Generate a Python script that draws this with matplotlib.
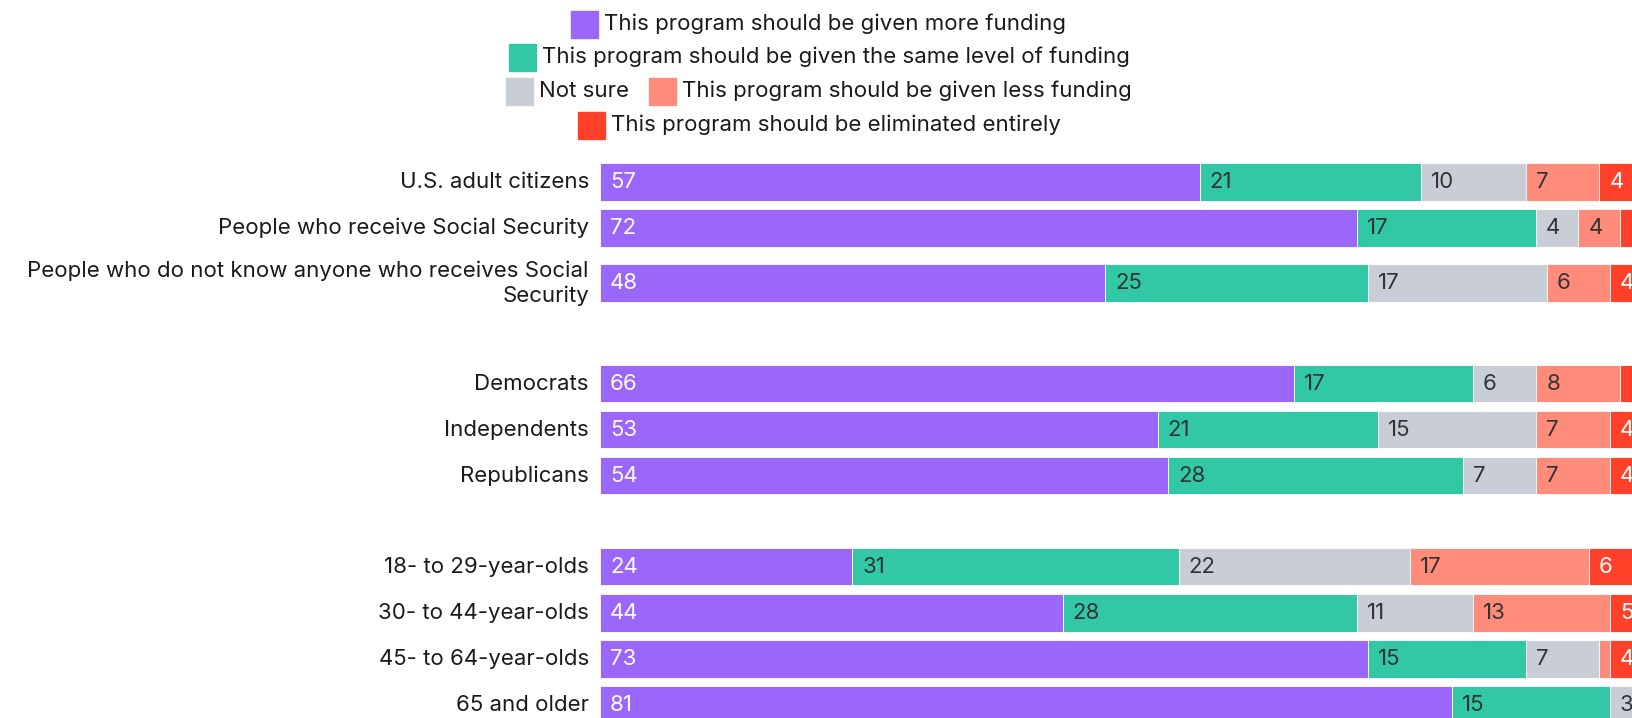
import numpy as np
import matplotlib.pyplot as plt
from matplotlib.patches import Rectangle

plt.rcParams['font.family'] = ['Inter', 'DejaVu Sans']

# categories, grouped
groups = [
    ['U.S. adult citizens', 'People who receive Social Security',
     'People who do not know anyone who receives Social\nSecurity'],
    ['Democrats', 'Independents', 'Republicans'],
    ['18- to 29-year-olds', '30- to 44-year-olds', '45- to 64-year-olds', '65 and older'],
]

more = [57, 72, 48, 66, 53, 54, 24, 44, 73, 81]
same = [21, 17, 25, 17, 21, 28, 31, 28, 15, 15]
not_sure = [10, 4, 17, 6, 15, 7, 22, 11, 7, 3]
less = [7, 4, 6, 8, 7, 7, 17, 13, 1, 1]
eliminated = [4, 3, 4, 3, 4, 4, 6, 5, 4, 1]

series_names = ['This program should be given more funding',
                'This program should be given the same level of funding',
                'Not sure',
                'This program should be given less funding',
                'This program should be eliminated entirely']
colors = ['#9B66FA', '#32C8A5', '#C9CED6', '#FF8B7B', '#FF4129']
text_colors = ['white', '#333333', '#333333', '#333333', 'white']

# y positions: one unit per row, extra for the two-line label, a gap between groups
labels, ypos = [], []
y = 0.0
for g in groups:
    for lab in g:
        if '\n' in lab:
            y += 0.2
        labels.append(lab)
        ypos.append(y)
        y += 1.2 if '\n' in lab else 1.0
    y += 0.98

W, H = 1633, 718
FS = 16
XMAX = 98.2
fig = plt.figure(figsize=(W / 100, H / 100), dpi=100)
ax = fig.add_axes([600 / W, 0, 1 - 600 / W, (718 - 140) / H])
ax.set_xlim(0, XMAX)
ax.set_ylim(11.65, -0.913)
ax.axis('off')

data = [more, same, not_sure, less, eliminated]
left = np.zeros(len(labels))
for vals, c, tc in zip(data, colors, text_colors):
    vals = np.array(vals, dtype=float)
    ax.barh(ypos, vals, left=left, height=0.82, color=c, edgecolor='white', linewidth=0.6)
    for yy, l, v in zip(ypos, left, vals):
        # segments too thin, or pushed past the right edge, get no number
        if v >= 3 and l < XMAX - 1.7:
            ax.annotate(str(int(v)), (l, yy), xytext=(10, 0), textcoords='offset pixels',
                        va='center', ha='left', fontsize=FS, color=tc,
                        annotation_clip=False, clip_on=True)
    left += vals

# category labels
for lab, yy in zip(labels, ypos):
    ax.annotate(lab, (0, yy), xytext=(-11, 0), textcoords='offset pixels',
                ha='right', va='center', fontsize=FS, color='#1a1a1a',
                linespacing=1.25, annotation_clip=False)

# legend, laid out by hand and centred
rows = [[0], [1], [2, 3], [4]]
row_y = [24, 57, 91, 125]
cx = 819
sw = 27
fig.canvas.draw()
r = fig.canvas.get_renderer()
for items, py in zip(rows, row_y):
    widths = []
    for i in items:
        t = fig.text(0, 0, series_names[i], fontsize=FS)
        widths.append(t.get_window_extent(r).width)
        t.remove()
    total = sum(sw + 6 + w for w in widths) + 20 * (len(items) - 1)
    x = cx - total / 2
    for i, w in zip(items, widths):
        fig.patches.append(Rectangle((x / W, 1 - (py + sw / 2) / H), sw / W, sw / H,
                                     color=colors[i], transform=fig.transFigure, figure=fig))
        fig.text((x + sw + 6) / W, 1 - py / H, series_names[i], fontsize=FS,
                 va='center', ha='left', color='#1a1a1a')
        x += sw + 6 + w + 20

fig.savefig('out.png', dpi=100)
